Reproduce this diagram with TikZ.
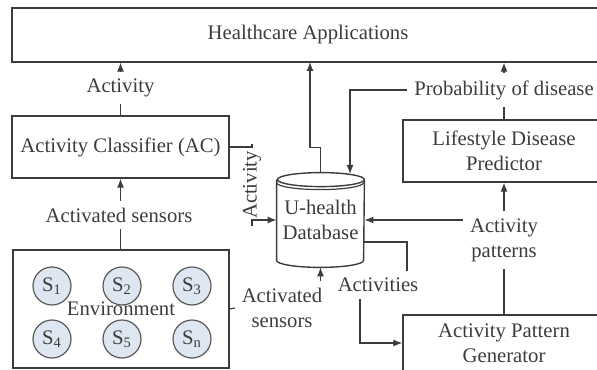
\documentclass[tikz,border=0pt]{standalone}
\usepackage{fontspec}
\setmainfont{Liberation Serif}
\usetikzlibrary{arrows.meta}

\definecolor{ink}{RGB}{60,60,60}
\definecolor{sensorfill}{RGB}{222,230,242}

\tikzset{
  txt/.style={font=\fontsize{10.35}{12.5}\selectfont, text=ink, align=center},
  box/.style={txt, rectangle, draw=ink, line width=0.7pt, inner sep=0pt},
  sensor/.style={txt, circle, draw=ink!85, fill=sensorfill, line width=0.6pt, minimum size=19pt, inner sep=0pt},
  link/.style={draw=ink, line width=0.6pt},
  arr/.style={link, -{Latex[length=4.5pt,width=3.5pt]}}
}

\begin{document}
\begin{tikzpicture}[x=0.5pt,y=0.5pt]

            %\draw [help lines] (0,0) grid (597,369);
            \useasboundingbox (0,0) rectangle (597,369);

            % blocks
            \path   (308,334) node (hc) [box,minimum width=296pt,minimum height=27pt] {Healthcare Applications}
                    (120.5,222) node (ac) [box,minimum width=108.5pt,minimum height=31pt] {Activity Classifier (AC)}
                    (121,60) node (env) [box,minimum width=108pt,minimum height=59pt] {Environment}
                    (504,218) node (ldp) [box,minimum width=101pt,minimum height=31pt] {Lifestyle Disease\\Predictor}
                    (504,26) node (apg) [box,minimum width=101pt,minimum height=28pt] {Activity Pattern\\Generator}
                    (320.5,149) node (db) [txt,minimum width=43.5pt,minimum height=47pt,inner sep=0pt] {U-health\\Database};

            % sensors
            \path   (52,83) node (s1) [sensor] {S\textsubscript{1}}
                    (122,83) node (s2) [sensor] {S\textsubscript{2}}
                    (192,83) node (s3) [sensor] {S\textsubscript{3}}
                    (52,30) node (s4) [sensor] {S\textsubscript{4}}
                    (122,30) node (s5) [sensor] {S\textsubscript{5}}
                    (192,30) node (s6) [sensor] {S\textsubscript{n}};

            % database cylinder
            \draw[link,line width=0.7pt] ([yshift=-3.5pt]db.north west) -- ([yshift=3.5pt]db.south west)
                    arc[start angle=180,end angle=360,x radius=21.75pt,y radius=3.5pt]
                    -- ([yshift=-3.5pt]db.north east)
                    arc[start angle=0,end angle=360,x radius=21.75pt,y radius=3.5pt];
            \draw[link] ([yshift=-5pt]db.north west) arc[start angle=180,end angle=360,x radius=21.75pt,y radius=3.5pt];

            % labels
            \path   (120.5,281) node (lact) [txt] {Activity}
                    (119,154) node (lsen) [txt] {Activated sensors}
                    (252,184) node (lactv) [txt,rotate=90] {Activity}
                    (504,279) node (prob) [txt] {Probability of disease}
                    (504,129) node (pat) [txt] {Activity\\patterns}
                    (378,84) node (acts) [txt] {Activities}
                    (282,61) node (asen) [txt] {Activated\\sensors};

            \coordinate (hcdb) at (310,307);
            \coordinate (dbtop) at (350,195);

            % connectors
            \draw[link] (ac.north) -- (ac.north |- lact.south);
            \draw[arr] (ac.north |- lact.north) -- (ac.north |- hc.south);
            \draw[link] (ac.south |- env.north) -- (ac.south |- lsen.south);
            \draw[arr] (ac.south |- lsen.north) -- (ac.south);
            \draw[link] (ac.east) -| (lactv.east);
            \draw[arr] (lactv.west) |- (db.west);
            \draw[arr] (db.north) -- ++(0,25) -| (hcdb);
            \draw[link] (ldp.north) -- (prob.south);
            \draw[arr] (prob.north) -- (prob.north |- hc.south);
            \draw[arr] (prob.west) -| (dbtop);
            \draw[link] (apg.north) -- (pat.south);
            \draw[arr] (pat.north) -- (ldp.south);
            \draw[arr] (pat.west |- db.east) -- (db.east);
            \draw[link] ([yshift=-11pt]db.east) -| ([xshift=14.5pt]acts.north);
            \draw[arr] ([xshift=-9pt]acts.south) |- (apg.west);
            \draw[link] (env.east) -- (asen.west);
            \draw[arr] (asen.north -| db.south) -- (db.south);
        \end{tikzpicture}
\end{document}
